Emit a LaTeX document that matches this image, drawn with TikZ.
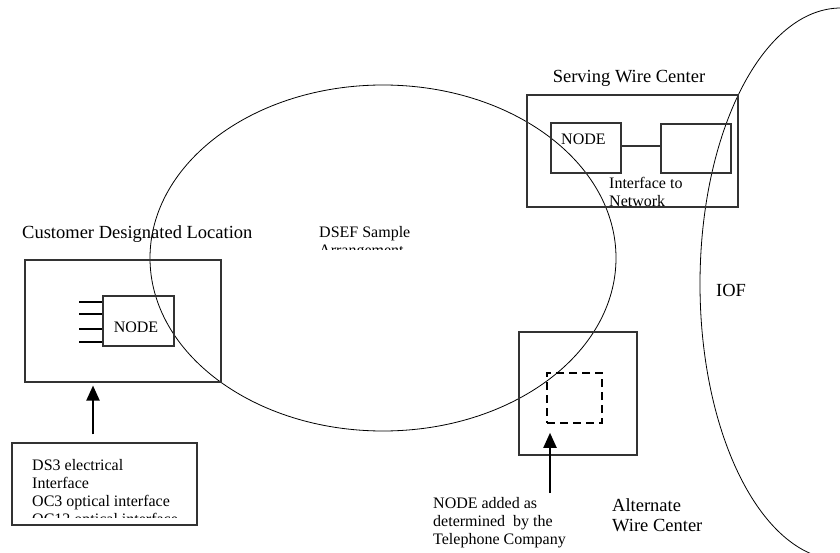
\documentclass[tikz,border=0pt]{standalone}
\usepackage{fontspec}
\setmainfont{Liberation Serif}
\usetikzlibrary{arrows.meta}
\begin{document}
\begin{tikzpicture}[x=1pt,y=-1pt,
  box/.style={draw=black!80, line width=1.1pt, inner sep=0pt},
  txt/.style={inner sep=0pt, font=\fontsize{16}{18}\selectfont, align=left},
  big/.style={inner sep=0pt, font=\fontsize{18.5}{20}\selectfont, align=left},
  arr/.style={line width=2pt, -{Triangle[width=13pt,length=15pt]}},
  ring/.style={draw, line width=0.8pt},
  stub/.style={line width=1.6pt},
  dashbox/.style={draw, line width=1.6pt, dash pattern=on 8pt off 5pt, inner sep=0pt}]
\useasboundingbox (0,0) rectangle (840,553);

% ellipses
\draw[ring] (383,258) ellipse [x radius=233, y radius=173];
\begin{scope}
  \clip (0,0) rectangle (840,553);
  \draw[ring] (841,284) ellipse [x radius=141, y radius=276];
\end{scope}

% Customer Designated Location
\node[big, anchor=base west] (cdlT) at (22,239) {Customer Designated Location};
\node[box, minimum width=196pt, minimum height=122pt] (cdl) at (123,321) {};
\node[box, minimum width=71pt, minimum height=50pt] (cnode) at (138.5,321) {};
\node[txt, anchor=base] (cnodeT) at (136,332.5) {NODE};
\foreach \yy [count=\i] in {302,314,329,342}{
  \coordinate (st\i) at (79,\yy);
  \draw[stub] (st\i) -- (st\i -| cnode.west);
}

% DS3 text box (last baseline given)
\node[box, minimum width=185pt, minimum height=82pt] (ds3) at (104.5,484) {};
\begin{scope}
  \clip (12,443) rectangle (197,517);
  \node[txt, anchor=base west] (ds3T) at (32,524) {DS3 electrical\\Interface\\OC3 optical interface\\OC12 optical interface};
\end{scope}
\coordinate (ax1) at (93,0);
\draw[arr, shorten <=8pt, shorten >=3pt] (ds3.north -| ax1) -- (cdl.south -| ax1);

% DSEF label
\begin{scope}
  \clip (280,200) rectangle (450,249.5);
  \node[txt, anchor=base west] (dsefT) at (319,255.5) {DSEF Sample\\Arrangement};
\end{scope}

% Serving Wire Center
\node[big, anchor=base] (swcT) at (629,83) {Serving Wire Center};
\node[box, minimum width=211pt, minimum height=112pt] (swc) at (632.5,151) {};
\node[box, minimum width=70pt, minimum height=50pt] (snode) at (586,148) {};
\node[txt, anchor=base west] (snodeT) at (561,144.5) {NODE};
\node[box, minimum width=70pt, minimum height=49pt] (sright) at (696,148.5) {};
\draw[line width=1.1pt, draw=black!80] ([yshift=2pt]snode.east) -- ([yshift=2pt]snode.east -| sright.west);
\node[txt, anchor=base west] (ifT) at (609,207) {Interface to\\Network};

% IOF
\node[big, anchor=base] (iof) at (731,296) {IOF};

% Alternate Wire Center
\node[box, minimum width=118pt, minimum height=123pt] (awc) at (578,393.5) {};
\node[dashbox, minimum width=55pt, minimum height=50pt] (dnode) at (574.5,398) {};
\node[big, anchor=base west] (altT) at (612,531) {Alternate\\Wire Center};
\coordinate (ax2) at (550,493);
\draw[arr, shorten >=9pt] (ax2) -- (dnode.south -| ax2);
\node[txt, anchor=base west] (addT) at (433,544.5) {NODE added as\\determined~ by the\\Telephone Company};
\end{tikzpicture}
\end{document}
